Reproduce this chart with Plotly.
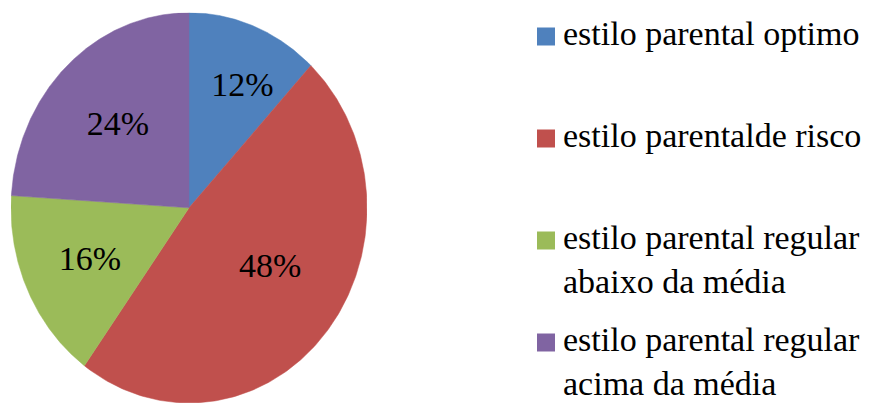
import numpy as np
import plotly.graph_objects as go

# Shares of each parenting style (percent)
categories = [
    "estilo parental optimo",
    "estilo parentalde risco",
    "estilo parental regular<br>abaixo da média",
    "estilo parental regular<br>acima da média",
]
values = [12, 48, 16, 24]

colors = ["#4F81BD", "#C0504D", "#9BBB59", "#8064A2"]
# placement of each % label: fraction of radius, angular shift from mid-slice (deg)
label_radius = [0.70, 0.545, 0.615, 0.587]
label_shift = [3.8, -6.5, 0.0, 0.4]

W, H = 870, 403
SERIF = "Liberation Serif"

# legend box geometry (pixels)
LEG_SWATCH_X = 537
LEG_SWATCH_SIZE = 18
LEG_TOP = 27.5
LEG_STEP = 102
LEG_TEXT_X = 561

fig = go.Figure()

total = float(sum(values))
start = 0.0
for name, v, c, lr, ls in zip(categories, values, colors, label_radius, label_shift):
    sweep = 360.0 * v / total
    # angles measured clockwise from 12 o'clock
    theta = np.radians(np.linspace(start, start + sweep, 200))
    xs = np.concatenate([[0], np.sin(theta), [0]])
    ys = np.concatenate([[0], np.cos(theta), [0]])
    fig.add_trace(go.Scatter(
        x=xs, y=ys, mode="lines", fill="toself", fillcolor=c,
        line=dict(color=c, width=0.5), hoverinfo="skip", showlegend=False,
        name=name.replace("<br>", " "),
    ))
    mid = np.radians(start + sweep / 2 + ls)
    fig.add_trace(go.Scatter(
        x=[lr * np.sin(mid)], y=[lr * np.cos(mid) - 0.015], mode="text",
        text=[f"{v}%"], textposition="middle center",
        textfont=dict(family=SERIF, size=34, color="#000000"),
        hoverinfo="skip", showlegend=False,
    ))
    start += sweep

# legend: colour swatch + label for every category
for i, (name, c) in enumerate(zip(categories, colors)):
    top = LEG_TOP + LEG_STEP * i
    fig.add_shape(
        type="rect", xref="paper", yref="paper",
        x0=LEG_SWATCH_X / W, x1=(LEG_SWATCH_X + LEG_SWATCH_SIZE) / W,
        y0=1 - top / H, y1=1 - (top + LEG_SWATCH_SIZE) / H,
        fillcolor=c, line=dict(width=0),
    )
    fig.add_annotation(
        xref="paper", yref="paper",
        x=LEG_TEXT_X / W, y=1 - (top - 15) / H,
        xanchor="left", yanchor="top", align="left",
        text=name, showarrow=False,
        font=dict(family=SERIF, size=34, color="#000000"),
    )

fig.update_layout(
    width=W, height=H,
    margin=dict(l=0, r=0, t=0, b=0),
    paper_bgcolor="white", plot_bgcolor="white",
    xaxis=dict(domain=[11 / W, 367 / W], range=[-1, 1], visible=False, fixedrange=True),
    yaxis=dict(domain=[0, (H - 12.7) / H], range=[-1, 1], visible=False, fixedrange=True),
    showlegend=False,
)

fig.write_html("out.html")
